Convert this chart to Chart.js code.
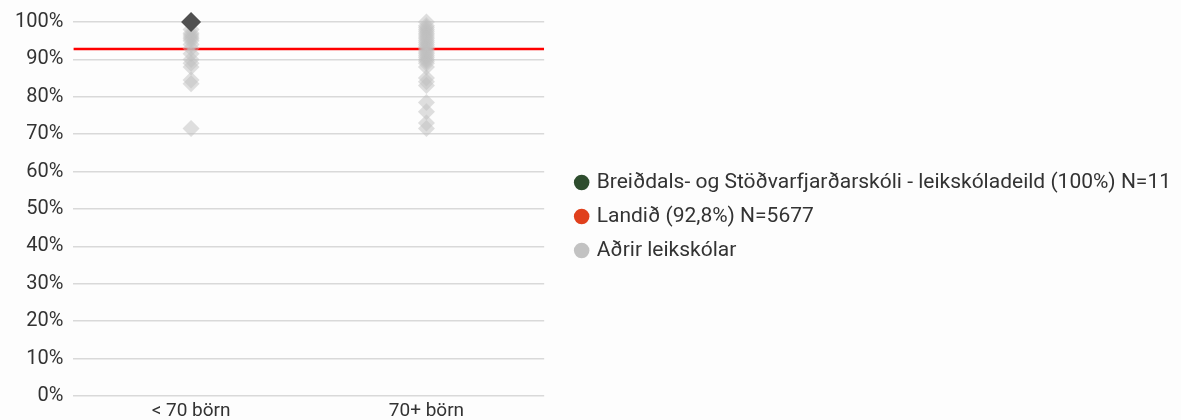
<!DOCTYPE html>
<html>
<head>
<meta charset="utf-8">
<script src="https://cdn.jsdelivr.net/npm/chart.js@4.4.0/dist/chart.umd.min.js"></script>
<style>
  html, body { margin: 0; padding: 0; background: #fdfdfd; }
  #wrap { position: relative; width: 1181px; height: 420px; }
</style>
</head>
<body>
<div id="wrap"><canvas id="chart"></canvas></div>
<script>
// categories on the x axis
const categories = ["< 70 börn", "70+ börn"];

// the school itself
const schoolLabel = "Breiðdals- og Stöðvarfjarðarskóli - leikskóladeild (100%) N=11";
const schoolCategory = "< 70 börn";
const schoolValue = 100;

// national average
const landidLabel = "Landið (92,8%) N=5677";
const landidValue = 92.8;

// other preschools, per category (percent)
const othersLabel = "Aðrir leikskólar";
const othersSmall = [98, 97, 96.5, 96, 95.5, 95, 94, 93, 91.5, 90, 89, 88, 84.5, 83.5, 71.5];
const othersLarge = [100, 99, 98.5, 98, 97.5, 97, 96.5, 96, 95.5, 95, 94.5, 94, 93.5, 93, 92.5,
  92, 91.5, 91, 90.5, 90, 89.5, 89, 88, 85, 84, 83, 78.5, 76, 73, 71.5];

const yTicks = [0, 10, 20, 30, 40, 50, 60, 70, 80, 90, 100];

const legendColors = ["#2e4d2e", "#e0401c", "#c2c2c2"];
const textColor = "#333";
const font = "Roboto, 'Liberation Sans', Arial, sans-serif";

const othersPoints = [
  ...othersSmall.map((v) => ({ x: categories[0], y: v })),
  ...othersLarge.map((v) => ({ x: categories[1], y: v })),
];

const ctx = document.getElementById("chart").getContext("2d");

new Chart(ctx, {
  type: "scatter",
  data: {
    datasets: [
      {
        label: schoolLabel,
        data: [{ x: schoolCategory, y: schoolValue }],
        pointStyle: "rectRot",
        pointRadius: 10,
        backgroundColor: "#505050",
        borderColor: "#505050",
        borderWidth: 0,
        clip: false,
        order: 1,
      },
      {
        label: landidLabel,
        type: "line",
        xAxisID: "xLine",
        data: [{ x: 0, y: landidValue }, { x: 1, y: landidValue }],
        borderColor: "#ff0000",
        borderWidth: 2.5,
        pointRadius: 0,
        fill: false,
        order: 3,
      },
      {
        label: othersLabel,
        data: othersPoints,
        pointStyle: "rectRot",
        pointRadius: 8.5,
        backgroundColor: "rgba(192,192,192,0.5)",
        borderWidth: 0,
        clip: false,
        order: 2,
      },
    ],
  },
  options: {
    responsive: true,
    maintainAspectRatio: false,
    animation: false,
    layout: { padding: { top: 13, right: 0, bottom: 0, left: 5 } },
    scales: {
      x: {
        type: "category",
        labels: categories,
        offset: true,
        grid: { display: false, drawTicks: false },
        border: { display: false },
        ticks: { color: textColor, font: { family: font, size: 19, lineHeight: 0.6 }, padding: 10 },
        afterFit: (s) => { s.height = 24; },
      },
      xLine: {
        type: "linear",
        min: 0,
        max: 1,
        display: false,
      },
      y: {
        min: 0,
        max: 100,
        afterBuildTicks: (axis) => {
          axis.ticks = yTicks.map((v) => ({ value: v }));
        },
        grid: { color: "#d9d9d9", lineWidth: 1.5, drawTicks: false },
        border: { display: false },
        ticks: {
          color: textColor,
          font: { family: font, size: 20 },
          padding: 10,
          callback: (v) => v + "%",
        },
      },
      // empty strip between the plot and the legend
      gap: {
        position: "right",
        grid: { display: false, drawTicks: false },
        border: { display: false },
        ticks: { display: false },
        afterFit: (s) => { s.width = 20; },
      },
    },
    plugins: {
      tooltip: { enabled: false },
      legend: {
        position: "right",
        align: "center",
        maxWidth: 700,
        labels: {
          usePointStyle: true,
          boxWidth: 9,
          boxHeight: 11,
          padding: 13,
          color: textColor,
          font: { family: font, size: 21 },
          generateLabels: (chart) =>
            chart.data.datasets.map((ds, i) => ({
              text: ds.label,
              fillStyle: legendColors[i],
              strokeStyle: legendColors[i],
              lineWidth: 0,
              pointStyle: "circle",
              fontColor: textColor,
              datasetIndex: i,
              hidden: false,
            })),
        },
      },
    },
  },
});
</script>
</body>
</html>
